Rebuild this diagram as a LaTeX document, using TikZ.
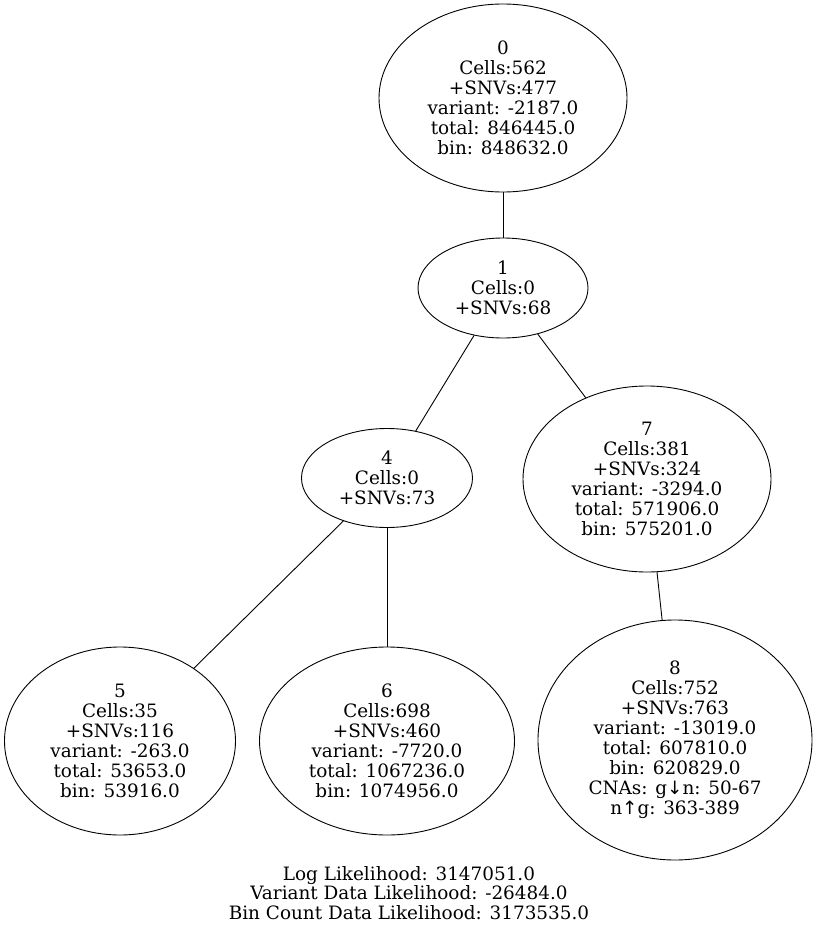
\documentclass[tikz,border=0pt]{standalone}
\usepackage{fontspec}
\setmainfont{DejaVu Serif}
\newfontfamily\arrowfont{DejaVu Sans}
\usetikzlibrary{shapes.geometric}
\tikzset{
  treenode/.style={draw, ellipse, line width=0.9pt, inner sep=0pt, align=center,
    font=\fontsize{18.4}{20}\selectfont},
  treeedge/.style={line width=0.9pt},
}
\begin{document}
\begin{tikzpicture}[x=1pt,y=-1pt]
\useasboundingbox (0,0) rectangle (817,931);

\node[treenode, minimum width=248pt, minimum height=188pt] (n0) at (503,98)
  {0\\Cells:562\\+SNVs:477\\variant: -2187.0\\total: 846445.0\\bin: 848632.0};
\node[treenode, minimum width=170pt, minimum height=100pt] (n1) at (503,288)
  {1\\Cells:0\\+SNVs:68};
\node[treenode, minimum width=171pt, minimum height=99pt] (n4) at (387,478)
  {4\\Cells:0\\+SNVs:73};
\node[treenode, minimum width=248pt, minimum height=186pt] (n7) at (647,479)
  {7\\Cells:381\\+SNVs:324\\variant: -3294.0\\total: 571906.0\\bin: 575201.0};
\node[treenode, minimum width=231pt, minimum height=188pt] (n5) at (120,741)
  {5\\Cells:35\\+SNVs:116\\variant: -263.0\\total: 53653.0\\bin: 53916.0};
\node[treenode, minimum width=255pt, minimum height=188pt] (n6) at (387,741)
  {6\\Cells:698\\+SNVs:460\\variant: -7720.0\\total: 1067236.0\\bin: 1074956.0};
\node[treenode, minimum width=274pt, minimum height=240pt] (n8) at (675,740)
  {8\\Cells:752\\+SNVs:763\\variant: -13019.0\\total: 607810.0\\bin: 620829.0\\
   CNAs: g{\arrowfont ↓}n: 50-67\\n{\arrowfont ↑}g: 363-389};

\draw[treeedge] (n0) -- (n1);
\draw[treeedge] (n1) -- (n4);
\draw[treeedge] (n1) -- (n7);
\draw[treeedge] (n4) -- (n5);
\draw[treeedge] (n4) -- (n6);
\draw[treeedge] (n7) -- (n8);

\node[align=center, inner sep=0pt, font=\fontsize{18.4}{19.5}\selectfont] (summary) at (409,893)
  {Log Likelihood: 3147051.0\\Variant Data Likelihood: -26484.0\\Bin Count Data Likelihood: 3173535.0};
\end{tikzpicture}
\end{document}
